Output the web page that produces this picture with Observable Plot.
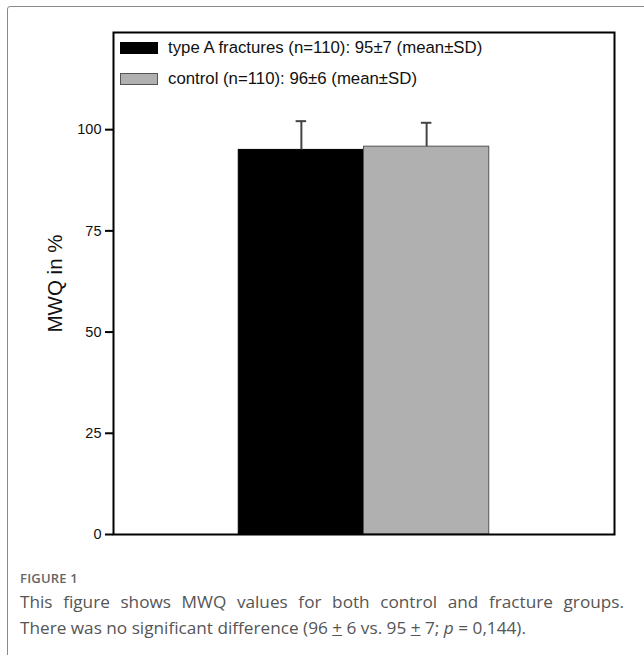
<!DOCTYPE html>
<html>
<head>
<meta charset="utf-8">
<script src="https://cdn.jsdelivr.net/npm/d3@7"></script>
<script src="https://cdn.jsdelivr.net/npm/@observablehq/plot@0.6"></script>
<style>
  html, body { margin: 0; padding: 0; background: white; width: 644px; height: 655px; overflow: hidden; }
  #frame { position: absolute; left: 7px; top: 6px; width: 700px; height: 700px; border: 1.5px solid #8a8a8a; border-radius: 3px; }
  #chart { position: absolute; left: 0; top: 0; }
  #legend { position: absolute; left: 120px; top: 32px; font-family: "Liberation Sans", Arial, sans-serif; font-size: 16.8px; color: #111; }
  .item { display: flex; align-items: center; height: 31px; }
  .sw { width: 38px; height: 12px; margin-right: 10px; box-sizing: border-box; }
  #caption { position: absolute; left: 20px; top: 569px; width: 604px; font-family: "Open Sans", sans-serif; color: #555; }
  #fig { font-size: 13px; font-weight: 600; color: #666; letter-spacing: 0.2px; }
  .line { font-size: 17.2px; line-height: 26px; white-space: nowrap; }
  #l1 { text-align: justify; text-align-last: justify; white-space: normal; margin-top: 2px; }
</style>
</head>
<body>
<div id="frame"></div>
<div id="chart"></div>
<div id="legend"></div>
<div id="caption">
  <div id="fig">FIGURE 1</div>
  <div class="line" id="l1">This figure shows MWQ values for both control and fracture groups.</div>
  <div class="line">There was no significant difference (96 <u>+</u> 6 vs. 95 <u>+</u> 7; <i>p</i> = 0,144).</div>
</div>
<script>
const groups = ["type A fractures", "control"];
const legendLabels = ["type A fractures (n=110): 95±7 (mean±SD)", "control (n=110): 96±6 (mean±SD)"];
const means = [95.0, 95.8];
const sds = [7.1, 5.9];
const fills = ["#000000", "#b0b0b0"];
const strokes = ["#000000", "#555555"];
const yTicks = [0, 25, 50, 75, 100];

const data = groups.map((g, i) => ({group: g, i, mean: means[i], sd: sds[i], fill: fills[i], stroke: strokes[i]}));
const capHalf = 0.042;

const plot = Plot.plot({
  width: 644,
  height: 545,
  marginLeft: 113,
  marginRight: 30,
  marginTop: 32,
  marginBottom: 11,
  style: {background: "transparent", fontFamily: "'Liberation Sans', Arial, sans-serif", fontSize: "14px", color: "#111"},
  x: {domain: [0, 4], axis: null},
  y: {domain: [0, 124], ticks: yTicks, tickSize: 8, tickPadding: 4, label: null},
  marks: [
    Plot.rectY(data, {x1: d => d.i + 1, x2: d => d.i + 2, y1: 0, y2: "mean", fill: "fill", stroke: "stroke", strokeWidth: 1}),
    Plot.ruleX(data, {x: d => d.i + 1.5, y1: "mean", y2: d => d.mean + d.sd, stroke: "#444", strokeWidth: 2}),
    Plot.ruleY(data, {x1: d => d.i + 1.5 - capHalf, x2: d => d.i + 1.5 + capHalf, y: d => d.mean + d.sd, stroke: "#444", strokeWidth: 2}),
    Plot.axisY({ticks: yTicks, tickSize: 8, tickPadding: 4, strokeWidth: 2, stroke: "#000", label: null, fontSize: 14.5}),
    Plot.frame({stroke: "#000", strokeWidth: 2}),
    Plot.text(["MWQ in %"], {frameAnchor: "left", dx: -58, rotate: -90, textAnchor: "middle", fontSize: 20.5, fill: "#111"})
  ]
});
document.getElementById("chart").appendChild(plot);

const legend = document.getElementById("legend");
legendLabels.forEach((lab, i) => {
  const item = document.createElement("div");
  item.className = "item";
  const sw = document.createElement("div");
  sw.className = "sw";
  sw.style.background = fills[i];
  sw.style.border = `1px solid ${strokes[i]}`;
  const t = document.createElement("span");
  t.textContent = lab;
  item.appendChild(sw);
  item.appendChild(t);
  legend.appendChild(item);
});
</script>
</body>
</html>
